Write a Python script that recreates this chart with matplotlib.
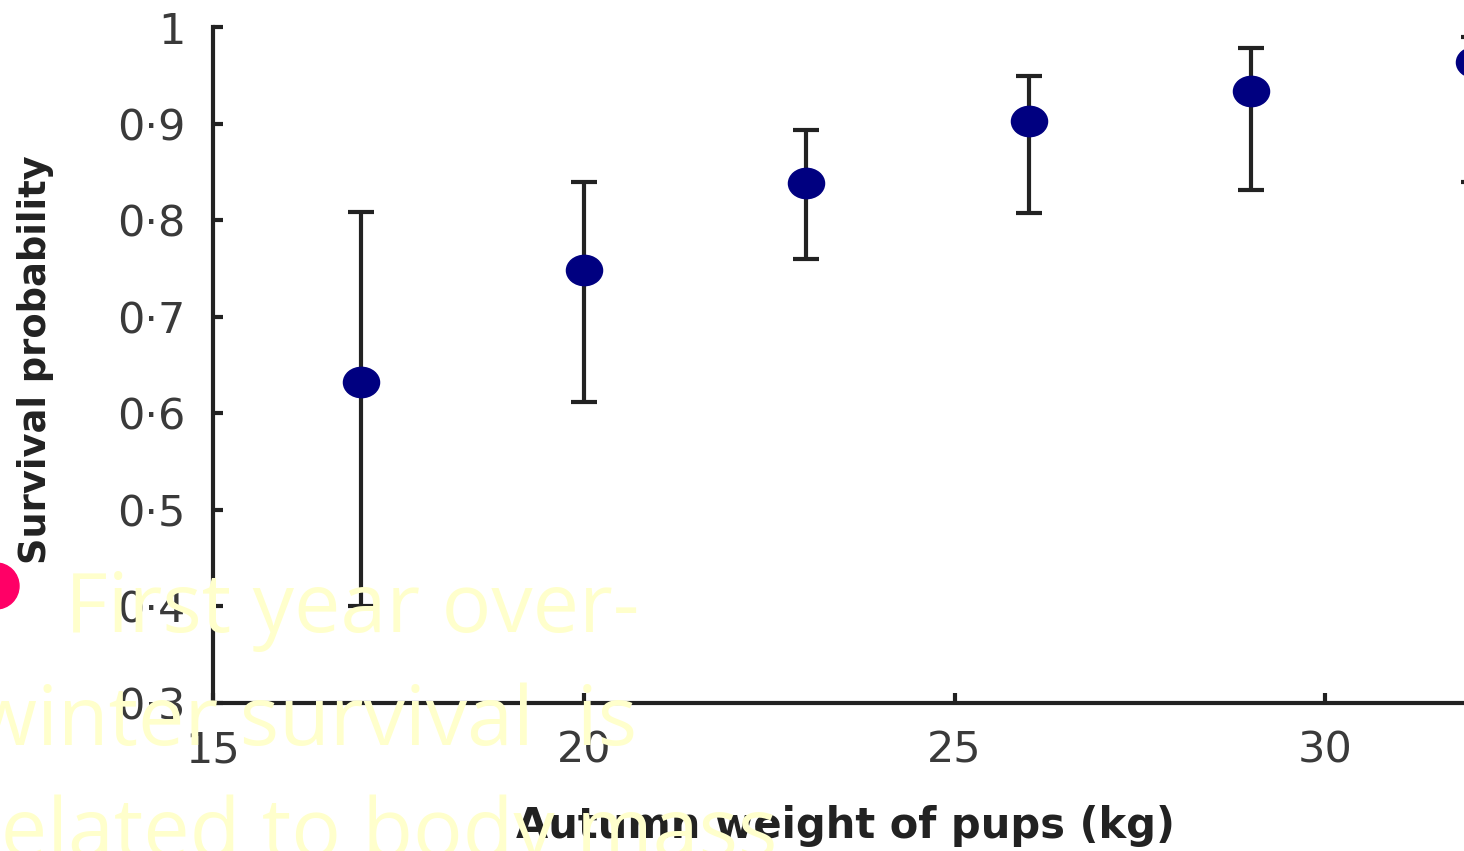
import matplotlib
matplotlib.use('Agg')
import matplotlib.pyplot as plt
from matplotlib.patches import Circle
from matplotlib.path import Path
from matplotlib.transforms import Affine2D

# autumn weight (kg), survival probability and error bar ends
weight = [17, 20, 23, 26, 29, 32]
survival = [0.632, 0.748, 0.838, 0.903, 0.934, 0.964]
upper = [0.808, 0.840, 0.893, 0.949, 0.978, 0.990]
lower = [0.400, 0.612, 0.760, 0.807, 0.831, 0.839]

yticks = [0.3, 0.4, 0.5, 0.6, 0.7, 0.8, 0.9, 1.0]
ytick_labels = ['0·3', '0·4', '0·5', '0·6', '0·7', '0·8', '0·9', '1']
xticks = [15, 20, 25, 30]
xtick_labels = ['15', '20', '25', '30']

overlay_lines = ['First year over-', 'winter survival  is', 'related to body mass']

W, H = 1464, 851
fig = plt.figure(figsize=(W / 100, H / 100), dpi=100)
ax = fig.add_axes([213 / W, 1 - 703 / H, (W - 213) / W, (703 - 27) / H])

err = [[s - lo for s, lo in zip(survival, lower)], [u - s for s, u in zip(survival, upper)]]
ellipse = Path.unit_circle().transformed(Affine2D().scale(1.0, 0.84))
ax.errorbar(weight, survival, yerr=err, fmt='none', ecolor='#222222',
            elinewidth=3, capsize=9.5, capthick=3, zorder=2)
ax.plot(weight, survival, ls='none', marker=ellipse, ms=26, color='#000080', zorder=3)

ax.set_xlim(15, 15 + (W - 213) / 74.15)
ax.set_ylim(0.3, 1.0)
ax.set_xticks(xticks)
ax.set_xticklabels(xtick_labels)
ax.set_yticks(yticks)
ax.set_yticklabels(ytick_labels)
for s in ['top', 'right']:
    ax.spines[s].set_visible(False)
for s in ['left', 'bottom']:
    ax.spines[s].set_linewidth(3)
    ax.spines[s].set_color('#222222')
ax.tick_params(direction='in', length=7, width=3, color='#222222',
               labelsize=31, labelcolor='#3a3a3a')
ax.tick_params(axis='y', pad=20)
ax.tick_params(axis='x', pad=19)

fig.text(845 / W, 1 - 826 / H, 'Autumn weight of pups (kg)', ha='center', va='center',
         fontsize=30, fontweight='bold', color='#222222')
fig.text(36 / W, 1 - 360 / H, 'Survival probability', ha='center', va='center',
         rotation=90, fontsize=26.5, fontweight='bold', color='#222222')

# slide overlay
fig.patches.append(Circle((-4, H - 586), 23, transform=None, color='#ff0066', zorder=5))
line_x = [65, -27, -33]
line_y = [632, 745, 857]
for txt, x, y in zip(overlay_lines, line_x, line_y):
    fig.text(x / W, 1 - y / H, txt, ha='left', va='baseline', fontsize=59.5,
             family='Open Sans', color='#ffffcc', zorder=6)

fig.savefig('out.png', dpi=100)
